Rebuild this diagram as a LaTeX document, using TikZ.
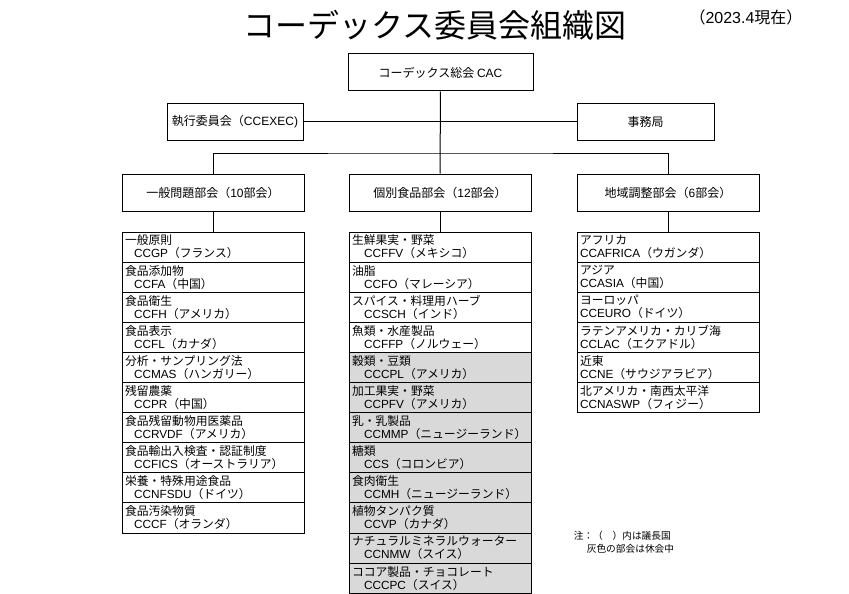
\documentclass[tikz,border=0pt]{standalone}
\usepackage{fontspec}
\setmainfont{Noto Sans CJK JP}
\newfontfamily\latfont{Liberation Sans}
\newcommand\lat[1]{{\latfont #1}}
\usetikzlibrary{positioning}

\begin{document}
\begin{tikzpicture}[x=1pt,y=-1pt,line width=1pt,
    box/.style={draw,minimum height=37pt,inner sep=0pt,font=\fontsize{12}{14}\selectfont},
    item/.style={draw,outer sep=0pt,minimum width=182pt,minimum height=30.1pt,
      text width=176pt,inner xsep=3pt,inner ysep=0pt,align=left,
      font=\fontsize{11.8}{13}\selectfont},
    rest/.style={item,fill=black!15}]

        \useasboundingbox (0,0) rectangle (849,594);

        \node[font=\fontsize{32}{32}\selectfont] (title) at (435,25) {コーデックス委員会組織図};
        \node[font=\fontsize{16}{16}\selectfont] (date)  at (746,17) {（\lat{2023.4}現在）};

        \begin{scope}[every node/.style={box}]
          \node[minimum width=185pt] (cac)  at (440.5,72.5) {コーデックス総会 \lat{CAC}};
          \node[minimum width=136pt] (exec) at (235,121.5)  {執行委員会（\lat{CCEXEC)}};
          \node[minimum width=137pt] (sec)  at (645.5,121.5) {事務局};
          \node[minimum width=182pt] (gen)  at (213,192.5)  {一般問題部会（\lat{10}部会）};
          \node[minimum width=182pt] (com)  at (440,192.5)  {個別食品部会（\lat{12}部会）};
          \node[minimum width=182pt] (reg)  at (668,192.5)  {地域調整部会（\lat{6}部会）};
        \end{scope}

        \begin{scope}[every node/.append style={item}]
          \node[anchor=north] (g1) at (213,232) {一般原則\\\hspace*{9pt}\lat{CCGP}（フランス）};
          \node[below=0pt of g1] (g2)  {食品添加物\\\hspace*{9pt}\lat{CCFA}（中国）};
          \node[below=0pt of g2] (g3)  {食品衛生\\\hspace*{9pt}\lat{CCFH}（アメリカ）};
          \node[below=0pt of g3] (g4)  {食品表示\\\hspace*{9pt}\lat{CCFL}（カナダ）};
          \node[below=0pt of g4] (g5)  {分析・サンプリング法\\\hspace*{9pt}\lat{CCMAS}（ハンガリー）};
          \node[below=0pt of g5] (g6)  {残留農薬\\\hspace*{9pt}\lat{CCPR}（中国）};
          \node[below=0pt of g6] (g7)  {食品残留動物用医薬品\\\hspace*{9pt}\lat{CCRVDF}（アメリカ）};
          \node[below=0pt of g7] (g8)  {食品輸出入検査・認証制度\\\hspace*{9pt}\lat{CCFICS}（オーストラリア）};
          \node[below=0pt of g8] (g9)  {栄養・特殊用途食品\\\hspace*{9pt}\lat{CCNFSDU}（ドイツ）};
          \node[below=0pt of g9] (g10) {食品汚染物質\\\hspace*{9pt}\lat{CCCF}（オランダ）};

          \node[anchor=north] (c1) at (440,232) {生鮮果実・野菜\\\hspace*{12pt}\lat{CCFFV}（メキシコ）};
          \node[below=0pt of c1] (c2)  {油脂\\\hspace*{12pt}\lat{CCFO}（マレーシア）};
          \node[below=0pt of c2] (c3)  {スパイス・料理用ハーブ\\\hspace*{12pt}\lat{CCSCH}（インド）};
          \node[below=0pt of c3] (c4)  {魚類・水産製品\\\hspace*{12pt}\lat{CCFFP}（ノルウェー）};
          \node[rest,below=0pt of c4] (c5)  {穀類・豆類\\\hspace*{12pt}\lat{CCCPL}（アメリカ）};
          \node[rest,below=0pt of c5] (c6)  {加工果実・野菜\\\hspace*{12pt}\lat{CCPFV}（アメリカ）};
          \node[rest,below=0pt of c6] (c7)  {乳・乳製品\\\hspace*{12pt}\lat{CCMMP}（ニュージーランド）};
          \node[rest,below=0pt of c7] (c8)  {糖類\\\hspace*{12pt}\lat{CCS}（コロンビア）};
          \node[rest,below=0pt of c8] (c9)  {食肉衛生\\\hspace*{12pt}\lat{CCMH}（ニュージーランド）};
          \node[rest,below=0pt of c9] (c10) {植物タンパク質\\\hspace*{12pt}\lat{CCVP}（カナダ）};
          \node[rest,below=0pt of c10] (c11) {ナチュラルミネラルウォーター\\\hspace*{12pt}\lat{CCNMW}（スイス）};
          \node[rest,below=0pt of c11] (c12) {ココア製品・チョコレート\\\hspace*{12pt}\lat{CCCPC}（スイス）};

          \node[anchor=north] (r1) at (668,232) {アフリカ\\\lat{CCAFRICA}（ウガンダ）};
          \node[below=0pt of r1] (r2) {アジア\\\lat{CCASIA}（中国）};
          \node[below=0pt of r2] (r3) {ヨーロッパ\\\lat{CCEURO}（ドイツ）};
          \node[below=0pt of r3] (r4) {ラテンアメリカ・カリブ海\\\lat{CCLAC}（エクアドル）};
          \node[below=0pt of r4] (r5) {近東\\\lat{CCNE}（サウジアラビア）};
          \node[below=0pt of r5] (r6) {北アメリカ・南西太平洋\\\lat{CCNASWP}（フィジー）};
        \end{scope}

        \node[anchor=north west,align=left,font=\fontsize{9.7}{13}\selectfont] (note) at (570,527)
          {注：（　）内は議長国\\\hspace*{13pt}灰色の部会は休会中};

        \coordinate (br) at (440,153);
        \draw (cac) -- (com);
        \draw (exec) -- (sec);
        \draw (gen.north) |- (br) -| (reg.north);
        \draw (gen) -- (g1);
        \draw (com) -- (c1);
        \draw (reg) -- (r1);

      \end{tikzpicture}
\end{document}
